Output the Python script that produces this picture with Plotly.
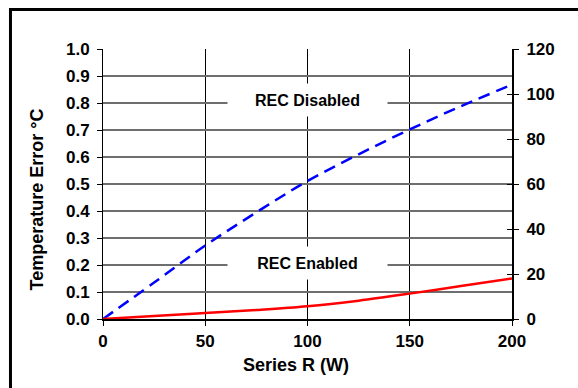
import plotly.graph_objects as go

series_r = [0, 25, 50, 75, 100, 125, 150, 175, 200]
rec_disabled = [0, 0.135, 0.272, 0.395, 0.511, 0.610, 0.702, 0.788, 0.868]
rec_enabled = [0, 0.011, 0.022, 0.033, 0.047, 0.068, 0.094, 0.122, 0.150]

x_ticks = [0, 50, 100, 150, 200]
y_ticks = [round(i * 0.1, 1) for i in range(11)]
y_tick_labels = [f"{v:.1f}" for v in y_ticks]
y2_ticks = [0, 20, 40, 60, 80, 100, 120]

FONT = "Liberation Sans, Arial, sans-serif"

fig = go.Figure()
fig.add_trace(go.Scatter(x=series_r, y=rec_disabled, mode="lines", line_shape="spline",
                         line=dict(color="#0000ff", width=2.5, dash="12px,7px"),
                         showlegend=False, hoverinfo="skip"))
fig.add_trace(go.Scatter(x=series_r, y=rec_enabled, mode="lines", line_shape="spline",
                         line=dict(color="#ff0000", width=2.5),
                         showlegend=False, hoverinfo="skip"))
# carriers for right-hand axes
fig.add_trace(go.Scatter(x=[0], y=[0], yaxis="y2", mode="markers", marker=dict(opacity=0),
                         showlegend=False, hoverinfo="skip"))
fig.add_trace(go.Scatter(x=[0], y=[0], yaxis="y3", mode="markers", marker=dict(opacity=0),
                         showlegend=False, hoverinfo="skip"))

tickfont = dict(family=FONT, size=17, color="black", weight="bold")

fig.update_layout(
    width=578, height=388,
    margin=dict(l=103, r=66, t=49, b=69),
    paper_bgcolor="white", plot_bgcolor="white",
    font=dict(family=FONT, color="black"),
    xaxis=dict(range=[0, 200], tickvals=x_ticks, ticks="outside", ticklen=5, tickwidth=1,
               tickcolor="black", showline=True, linecolor="black", linewidth=2,
               showgrid=True, gridcolor="black", gridwidth=1, zeroline=False,
               tickfont=tickfont, ticklabelstandoff=1, fixedrange=True),
    yaxis=dict(range=[0, 1.0], tickvals=y_ticks, ticktext=y_tick_labels, ticks="outside",
               ticklen=5, tickwidth=1, tickcolor="black", showline=True, linecolor="black",
               linewidth=1, showgrid=True, gridcolor="#6e6e6e", gridwidth=1.5, zeroline=False,
               tickfont=tickfont, ticklabelstandoff=4, fixedrange=True),
    yaxis2=dict(range=[0, 120], tickvals=y2_ticks, overlaying="y", side="right",
                ticks="outside", ticklen=5, tickwidth=1, tickcolor="black",
                showline=True, linecolor="black", linewidth=2, showgrid=False,
                zeroline=False, tickfont=tickfont, ticklabelstandoff=4, fixedrange=True),
    yaxis3=dict(range=[0, 120], tickvals=y2_ticks, overlaying="y", side="right",
                ticks="inside", ticklen=5, tickwidth=1, tickcolor="black",
                showline=False, showgrid=False, zeroline=False, showticklabels=False,
                fixedrange=True),
    annotations=[
        dict(x=100, y=0.811, xref="x", yref="y", text="<b>REC Disabled</b>", showarrow=False,
             bgcolor="white", width=159, height=32, borderpad=0,
             font=dict(family=FONT, size=16, color="black")),
        dict(x=100, y=0.207, xref="x", yref="y", text="<b>REC Enabled</b>", showarrow=False,
             bgcolor="white", width=159, height=32, borderpad=0,
             font=dict(family=FONT, size=16, color="black")),
        dict(x=-0.159, y=0.4426, xref="paper", yref="paper", text="<b>Temperature Error °C</b>",
             textangle=-90, showarrow=False, xanchor="center", yanchor="middle",
             font=dict(family=FONT, size=18, color="black")),
        dict(x=0.4714, y=-0.170, xref="paper", yref="paper", text="<b>Series R (W)</b>",
             showarrow=False, xanchor="center", yanchor="middle",
             font=dict(family=FONT, size=18, color="black")),
    ],
    shapes=[
        dict(type="rect", xref="paper", yref="paper", x0=-0.2262, x1=1.3, y0=-0.5, y1=1.1463,
             line=dict(color="black", width=3), fillcolor="rgba(0,0,0,0)", layer="above"),
    ],
)

fig.write_html("out.html")
